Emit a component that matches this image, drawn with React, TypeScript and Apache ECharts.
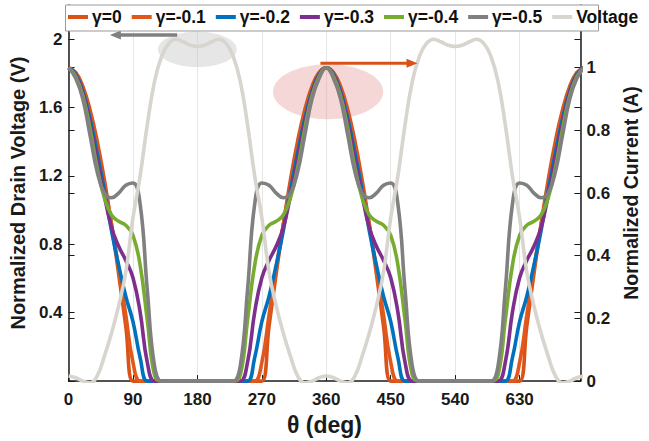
import React, { useEffect, useRef } from "react";
import * as echarts from "echarts";

// Phase angle in degrees, 10° steps over two RF cycles
const thetaDeg = [
  0, 10, 20, 30, 40, 50, 60, 70, 80, 90, 100, 110, 120, 130, 140, 150, 160, 170, 180,
  190, 200, 210, 220, 230, 240, 250, 260, 270, 280, 290, 300, 310, 320, 330, 340, 350, 360,
  370, 380, 390, 400, 410, 420, 430, 440, 450, 460, 470, 480, 490, 500, 510, 520, 530, 540,
  550, 560, 570, 580, 590, 600, 610, 620, 630, 640, 650, 660, 670, 680, 690, 700, 710, 720,
];

// Normalized drain currents for each gamma value (A)
const currentG0 = [
  1, 0.985, 0.94, 0.866, 0.766, 0.643, 0.5, 0.342, 0.174, 0, 0, 0, 0, 0, 0, 0, 0, 0, 0,
  0, 0, 0, 0, 0, 0, 0, 0, 0, 0.174, 0.342, 0.5, 0.643, 0.766, 0.866, 0.94, 0.985, 1,
  0.985, 0.94, 0.866, 0.766, 0.643, 0.5, 0.342, 0.174, 0, 0, 0, 0, 0, 0, 0, 0, 0, 0,
  0, 0, 0, 0, 0, 0, 0, 0, 0, 0.174, 0.342, 0.5, 0.643, 0.766, 0.866, 0.94, 0.985, 1,
];
const currentG01 = [
  1, 0.982, 0.932, 0.852, 0.748, 0.628, 0.5, 0.36, 0.21, 0.06, 0, 0, 0, 0, 0, 0, 0, 0, 0,
  0, 0, 0, 0, 0, 0, 0, 0, 0.06, 0.21, 0.36, 0.5, 0.628, 0.748, 0.852, 0.932, 0.982, 1,
  0.982, 0.932, 0.852, 0.748, 0.628, 0.5, 0.36, 0.21, 0.06, 0, 0, 0, 0, 0, 0, 0, 0, 0,
  0, 0, 0, 0, 0, 0, 0, 0, 0.06, 0.21, 0.36, 0.5, 0.628, 0.748, 0.852, 0.932, 0.982, 1,
];
const currentG02 = [
  1, 0.979, 0.925, 0.838, 0.728, 0.61, 0.48, 0.37, 0.27, 0.19, 0.075, 0, 0, 0, 0, 0, 0, 0, 0,
  0, 0, 0, 0, 0, 0, 0, 0.075, 0.19, 0.27, 0.37, 0.48, 0.61, 0.728, 0.838, 0.925, 0.979, 1,
  0.979, 0.925, 0.838, 0.728, 0.61, 0.48, 0.37, 0.27, 0.19, 0.075, 0, 0, 0, 0, 0, 0, 0, 0,
  0, 0, 0, 0, 0, 0, 0, 0.075, 0.19, 0.27, 0.37, 0.48, 0.61, 0.728, 0.838, 0.925, 0.979, 1,
];
const currentG03 = [
  1, 0.976, 0.918, 0.822, 0.705, 0.592, 0.49, 0.43, 0.385, 0.33, 0.22, 0.06, 0, 0, 0, 0, 0, 0, 0,
  0, 0, 0, 0, 0, 0, 0.06, 0.22, 0.33, 0.385, 0.43, 0.49, 0.592, 0.705, 0.822, 0.918, 0.976, 1,
  0.976, 0.918, 0.822, 0.705, 0.592, 0.49, 0.43, 0.385, 0.33, 0.22, 0.06, 0, 0, 0, 0, 0, 0, 0,
  0, 0, 0, 0, 0, 0, 0.06, 0.22, 0.33, 0.385, 0.43, 0.49, 0.592, 0.705, 0.822, 0.918, 0.976, 1,
];
const currentG04 = [
  1, 0.972, 0.91, 0.805, 0.68, 0.585, 0.53, 0.51, 0.497, 0.465, 0.37, 0.195, 0.02, 0, 0, 0, 0, 0, 0,
  0, 0, 0, 0, 0, 0.02, 0.195, 0.37, 0.465, 0.497, 0.51, 0.53, 0.585, 0.68, 0.805, 0.91, 0.972, 1,
  0.972, 0.91, 0.805, 0.68, 0.585, 0.53, 0.51, 0.497, 0.465, 0.37, 0.195, 0.02, 0, 0, 0, 0, 0, 0,
  0, 0, 0, 0, 0, 0.02, 0.195, 0.37, 0.465, 0.497, 0.51, 0.53, 0.585, 0.68, 0.805, 0.91, 0.972, 1,
];
const currentG05 = [
  1, 0.966, 0.9, 0.785, 0.668, 0.6, 0.585, 0.6, 0.625, 0.632, 0.565, 0.29, 0.05, 0, 0, 0, 0, 0, 0,
  0, 0, 0, 0, 0, 0.05, 0.29, 0.565, 0.632, 0.625, 0.6, 0.585, 0.6, 0.668, 0.785, 0.9, 0.966, 1,
  0.966, 0.9, 0.785, 0.668, 0.6, 0.585, 0.6, 0.625, 0.632, 0.565, 0.29, 0.05, 0, 0, 0, 0, 0, 0,
  0, 0, 0, 0, 0, 0.05, 0.29, 0.565, 0.632, 0.625, 0.6, 0.585, 0.6, 0.668, 0.785, 0.9, 0.966, 1,
];

// Normalized drain voltage (V)
const drainVoltage = [
  0.03, 0.02, 0, -0.01, 0.03, 0.145, 0.28, 0.44, 0.64, 0.955, 1.2, 1.5, 1.75, 1.9, 1.975, 2.0, 1.985, 1.965, 1.957,
  1.965, 1.985, 2.0, 1.975, 1.9, 1.75, 1.5, 1.2, 0.955, 0.64, 0.44, 0.28, 0.145, 0.03, -0.01, 0, 0.02, 0.03,
  0.02, 0, -0.01, 0.03, 0.145, 0.28, 0.44, 0.64, 0.955, 1.2, 1.5, 1.75, 1.9, 1.975, 2.0, 1.985, 1.965, 1.957,
  1.965, 1.985, 2.0, 1.975, 1.9, 1.75, 1.5, 1.2, 0.955, 0.64, 0.44, 0.28, 0.145, 0.03, -0.01, 0, 0.02, 0.03,
];

const seriesNames = ["γ=0", "γ=-0.1", "γ=-0.2", "γ=-0.3", "γ=-0.4", "γ=-0.5", "Voltage"];
const seriesColors = ["#D95319", "#E0581C", "#0072BD", "#7E2F8E", "#77AC30", "#808080", "#D8D4CE"];
const currentSets = [currentG0, currentG01, currentG02, currentG03, currentG04, currentG05];

const FONT = "'Liberation Sans', Arial, Helvetica, sans-serif";
const AXIS_COLOR = "#1a1a1a";

const pairs = (ys: number[]) => thetaDeg.map((t, i) => [t, ys[i]]);

export default function App() {
  const ref = useRef<HTMLDivElement>(null);

  useEffect(() => {
    document.body.style.margin = "0";
    if (!ref.current) return;
    const chart = echarts.init(ref.current, undefined, { renderer: "svg" });

    const gridLeft = 65;
    const gridRight = 51;
    const gridTop = 5;
    const gridBottom = 59;
    const W = 649;

    const labelStyle = { color: AXIS_COLOR, fontFamily: FONT, fontWeight: "bold" as const, fontSize: 17 };
    const nameStyle = { color: AXIS_COLOR, fontFamily: FONT, fontWeight: "bold" as const, fontSize: 20 };

    const series: any[] = currentSets.map((ys, i) => ({
      name: seriesNames[i],
      type: "line",
      yAxisIndex: 1,
      data: pairs(ys),
      showSymbol: false,
      smooth: 0.45,
      lineStyle: { width: 3.6, color: seriesColors[i] },
      itemStyle: { color: seriesColors[i] },
      z: 3 + i,
    }));
    series.push({
      name: "Voltage",
      type: "line",
      yAxisIndex: 0,
      data: pairs(drainVoltage),
      showSymbol: false,
      smooth: 0.45,
      lineStyle: { width: 3.6, color: seriesColors[6] },
      itemStyle: { color: seriesColors[6] },
      z: 10,
    });

    chart.setOption({
      animation: false,
      backgroundColor: "#ffffff",
      grid: { left: gridLeft, right: gridRight, top: gridTop, bottom: gridBottom, containLabel: false },
      legend: {
        data: seriesNames,
        left: gridLeft + 3,
        top: 8,
        itemWidth: 20,
        itemHeight: 4,
        itemGap: 10,
        icon: "rect",
        padding: 0,
        z: 30,
        textStyle: { color: "#111", fontFamily: FONT, fontWeight: "bold", fontSize: 17.5, padding: [0, 0, 0, -1] },
      },
      xAxis: {
        type: "value",
        min: 0,
        max: 715,
        interval: 90,
        name: "θ (deg)",
        nameLocation: "middle",
        nameGap: 28,
        nameTextStyle: { ...nameStyle, fontSize: 23 },
        axisLine: { show: true, onZero: false, lineStyle: { color: AXIS_COLOR, width: 1.5 } },
        axisTick: { show: true, inside: true, length: 6, lineStyle: { color: AXIS_COLOR } },
        axisLabel: { ...labelStyle, margin: 10, formatter: (v: number) => (v >= 700 ? "" : String(v)) },
        splitLine: { show: true, lineStyle: { color: "#e6e6e6", width: 1 } },
      },
      yAxis: [
        {
          type: "value",
          position: "left",
          min: 0,
          max: 2.2,
          interval: 0.4,
          name: "Normalized Drain Voltage (V)",
          nameLocation: "middle",
          nameGap: 40,
          nameTextStyle: nameStyle,
          axisLine: { show: true, lineStyle: { color: AXIS_COLOR, width: 1.5 } },
          axisTick: { show: true, inside: true, length: 6, lineStyle: { color: AXIS_COLOR } },
          axisLabel: {
            ...labelStyle,
            margin: 6,
            formatter: (v: number) => (v <= 0 || v > 2.1 ? "" : String(+v.toFixed(1))),
          },
          splitLine: { show: false },
        },
        {
          type: "value",
          position: "right",
          min: 0,
          max: 1.2,
          interval: 0.2,
          name: "Normalized Current (A)",
          nameLocation: "middle",
          nameGap: 30,
          nameTextStyle: { ...nameStyle, fontSize: 19.5 },
          axisLine: { show: true, lineStyle: { color: AXIS_COLOR, width: 1.5 } },
          axisTick: { show: true, inside: true, length: 6, lineStyle: { color: AXIS_COLOR } },
          axisLabel: {
            ...labelStyle,
            margin: 6,
            formatter: (v: number) => (v > 1.1 ? "" : String(+v.toFixed(1))),
          },
          splitLine: { show: false },
        },
        {
          // current ticks mirrored onto the left edge
          type: "value",
          position: "left",
          min: 0,
          max: 1.2,
          interval: 0.2,
          axisLine: { show: false },
          axisTick: { show: true, inside: true, length: 6, lineStyle: { color: AXIS_COLOR } },
          axisLabel: { show: false },
          splitLine: { show: false },
        },
        {
          // voltage ticks mirrored onto the right edge
          type: "value",
          position: "right",
          min: 0,
          max: 2.2,
          interval: 0.4,
          axisLine: { show: false },
          axisTick: { show: true, inside: true, length: 6, lineStyle: { color: AXIS_COLOR } },
          axisLabel: { show: false },
          splitLine: { show: false },
        },
      ],
      series,
    });

    // Annotations placed in data coordinates
    const toPx = (yAxisIndex: number, x: number, y: number) =>
      chart.convertToPixel({ xAxisIndex: 0, yAxisIndex }, [x, y]) as number[];

    const vCenter = toPx(0, 179.9, 1.94);
    const vEdge = toPx(0, 179.9 + 55, 1.94 + 0.103);
    const iCenter = toPx(1, 362.5, 0.923);
    const iEdge = toPx(1, 362.5 + 77, 0.923 + 0.0877);

    const gA0 = toPx(0, 151.7, 2.025);
    const gA1 = toPx(0, 57.7, 2.025);
    const oA0 = toPx(1, 351.8, 1.014);
    const oA1 = toPx(1, 487.4, 1.014);

    const head = 11;
    const half = 4.5;

    chart.setOption({
      graphic: [
        {
          type: "ellipse",
          z: 1,
          shape: { cx: vCenter[0], cy: vCenter[1], rx: vEdge[0] - vCenter[0], ry: vCenter[1] - vEdge[1] },
          style: { fill: "rgba(200,200,200,0.45)" },
        },
        {
          type: "ellipse",
          z: 1,
          shape: { cx: iCenter[0], cy: iCenter[1], rx: iEdge[0] - iCenter[0], ry: iCenter[1] - iEdge[1] },
          style: { fill: "rgba(232,150,150,0.38)" },
        },
        {
          type: "line",
          z: 20,
          shape: { x1: gA0[0], y1: gA0[1], x2: gA1[0] + head - 1, y2: gA1[1] },
          style: { stroke: "#808080", lineWidth: 3.5 },
        },
        {
          type: "polygon",
          z: 20,
          shape: { points: [[gA1[0], gA1[1]], [gA1[0] + head, gA1[1] - half], [gA1[0] + head, gA1[1] + half]] },
          style: { fill: "#808080" },
        },
        {
          type: "line",
          z: 20,
          shape: { x1: oA0[0], y1: oA0[1], x2: oA1[0] - head + 1, y2: oA1[1] },
          style: { stroke: "#D95319", lineWidth: 3 },
        },
        {
          type: "polygon",
          z: 20,
          shape: { points: [[oA1[0], oA1[1]], [oA1[0] - head, oA1[1] - half], [oA1[0] - head, oA1[1] + half]] },
          style: { fill: "#D95319" },
        },
        {
          // legend frame along the top of the plot
          type: "rect",
          z: 25,
          shape: { x: gridLeft + 0.5, y: gridTop, width: W - gridLeft - gridRight, height: 26 },
          style: { fill: "#ffffff", stroke: "#9a9a9a", lineWidth: 1 },
        },
      ],
    });

    return () => chart.dispose();
  }, []);

  return <div ref={ref} style={{ width: 649, height: 441 }} />;
}
